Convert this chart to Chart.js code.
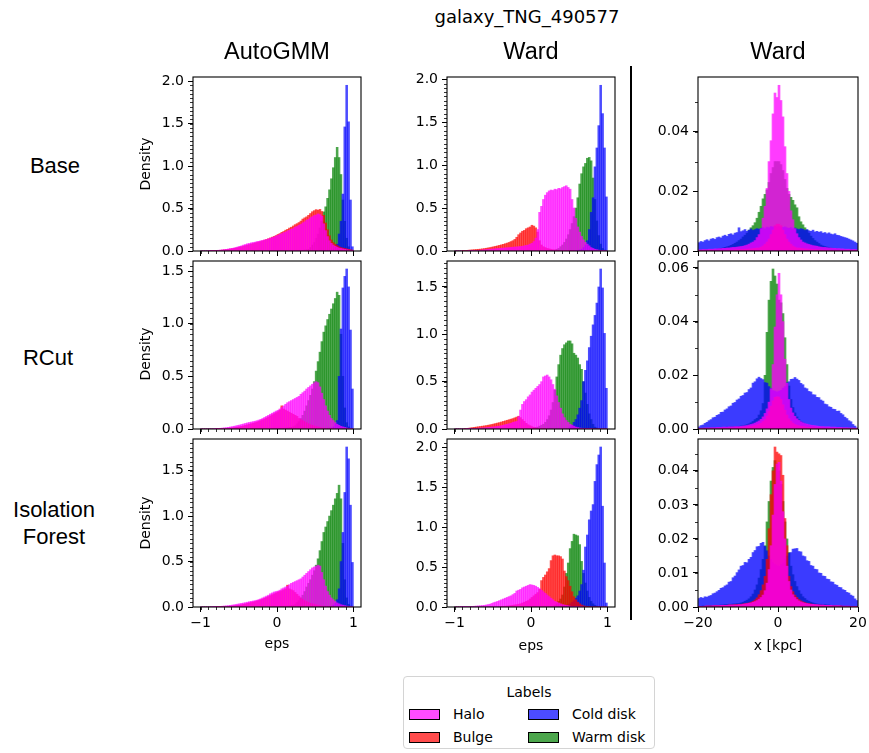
<!DOCTYPE html>
<html>
<head>
<meta charset="utf-8">
<title>galaxy_TNG_490577</title>
<script src="https://cdn.jsdelivr.net/npm/chart.js@4.4.1/dist/chart.umd.min.js"></script>
<style>
  body { margin: 0; background: #fff; }
  #fig { position: relative; width: 869px; height: 753px; overflow: hidden;
         font-family: "DejaVu Sans", sans-serif; color: #000; }
  #fig canvas { position: absolute; }
  .txt { position: absolute; white-space: nowrap; line-height: 1; transform: translate(-50%, -50%); }
  .head { font-family: "Liberation Sans", Arial, sans-serif; font-size: 22px; }
  .colhead { font-family: "Liberation Sans", Arial, sans-serif; font-size: 23.5px; }
  .lab { font-size: 14px; }
  .ylab { font-size: 14px; transform: translate(-50%, -50%) rotate(-90deg); }
  #sep { position: absolute; left: 630px; top: 66px; width: 2px; height: 554px; background: #000; }
  #legend { position: absolute; left: 403px; top: 676px; width: 252px; height: 73px;
            border: 1px solid #d4d4d4; border-radius: 4px; box-sizing: border-box; background: #fff; }
  .sw { position: absolute; width: 31px; height: 11px; border: 1px solid #000; box-sizing: border-box; }
  .lt { position: absolute; font-size: 14px; line-height: 1; transform: translateY(-50%); white-space: nowrap; }
</style>
</head>
<body>
<div id="fig"></div>
<script>
// component names and fills (alpha 0.7 like the hist calls)
const labelNames = ['Halo', 'Bulge', 'Cold disk', 'Warm disk'];
const fills = ['rgba(255,0,255,0.7)', 'rgba(255,0,0,0.7)', 'rgba(0,0,255,0.7)', 'rgba(0,128,0,0.7)'];

// bin centres: eps has 80 bins on [-1, 1], x has 80 bins on [-20, 20] kpc
const epsBins = Array.from({length: 80}, (_, i) => -1 + 0.025 * (i + 0.5));
const kpcBins = Array.from({length: 80}, (_, i) => -20 + 0.5 * (i + 0.5));

// tick values
const epsXTicks = [-1, 0, 1];
const kpcXTicks = [-20, 0, 20];
const densTicksTo2 = [0, 0.5, 1.0, 1.5, 2.0];
const densTicksTo15 = [0, 0.5, 1.0, 1.5];
const kpcTicksBase = [0, 0.02, 0.04];
const kpcTicksRCut = [0, 0.02, 0.04, 0.06];
const kpcTicksIso = [0, 0.01, 0.02, 0.03, 0.04];

// ---- Base / AutoGMM (eps) ----
const baseAutoHalo = [
  0, 0, 0, 0, 0.002, 0.003, 0.004, 0.005,
  0.007, 0.009, 0.011, 0.014, 0.017, 0.02, 0.024, 0.028,
  0.031, 0.036, 0.041, 0.048, 0.055, 0.061, 0.07, 0.077,
  0.085, 0.089, 0.096, 0.1, 0.104, 0.111, 0.114, 0.121,
  0.124, 0.131, 0.134, 0.142, 0.149, 0.159, 0.164, 0.176,
  0.184, 0.196, 0.204, 0.216, 0.223, 0.236, 0.244, 0.256,
  0.263, 0.281, 0.288, 0.302, 0.313, 0.331, 0.343, 0.362,
  0.373, 0.392, 0.403, 0.417, 0.424, 0.437, 0.428, 0.41,
  0.32, 0.24, 0.17, 0.12, 0.09, 0.07, 0.055, 0.045,
  0.035, 0.03, 0.025, 0.02, 0.015, 0.012, 0.008, 0.004
];
const baseAutoBulge = [
  0, 0, 0, 0, 0, 0.002, 0.003, 0.004,
  0.005, 0.007, 0.009, 0.011, 0.014, 0.017, 0.02, 0.023,
  0.027, 0.031, 0.035, 0.04, 0.046, 0.052, 0.058, 0.064,
  0.07, 0.076, 0.082, 0.088, 0.094, 0.1, 0.106, 0.112,
  0.12, 0.128, 0.136, 0.145, 0.154, 0.163, 0.172, 0.182,
  0.195, 0.205, 0.22, 0.23, 0.245, 0.255, 0.27, 0.28,
  0.295, 0.31, 0.322, 0.335, 0.352, 0.376, 0.39, 0.402,
  0.42, 0.441, 0.462, 0.475, 0.487, 0.48, 0.49, 0.465,
  0.42, 0.33, 0.25, 0.18, 0.13, 0.1, 0.08, 0.065,
  0.05, 0.04, 0.035, 0.03, 0.025, 0.02, 0.015, 0.01
];
const baseAutoCold = [
  0, 0, 0, 0, 0, 0, 0, 0,
  0, 0, 0, 0, 0, 0, 0, 0,
  0, 0, 0, 0, 0, 0, 0, 0,
  0, 0, 0, 0, 0, 0, 0, 0,
  0, 0, 0, 0, 0, 0, 0, 0,
  0, 0, 0, 0, 0, 0, 0, 0,
  0, 0, 0, 0, 0, 0, 0, 0,
  0, 0, 0, 0, 0, 0, 0, 0,
  0.002, 0.004, 0.006, 0.008, 0.01, 0.02, 0.04, 0.08,
  0.2, 0.35, 0.67, 1.46, 1.95, 1.52, 0.6, 0.05
];
const baseAutoWarm = [
  0, 0, 0, 0, 0, 0, 0, 0,
  0, 0, 0, 0, 0, 0, 0, 0,
  0, 0, 0, 0, 0, 0, 0, 0,
  0, 0, 0, 0, 0, 0, 0, 0,
  0, 0, 0, 0, 0, 0, 0, 0,
  0, 0, 0, 0, 0, 0, 0, 0,
  0, 0, 0.002, 0.004, 0.006, 0.008, 0.011, 0.015,
  0.02, 0.04, 0.07, 0.1, 0.15, 0.2, 0.27, 0.35,
  0.46, 0.52, 0.62, 0.72, 0.85, 0.98, 1.1, 1.22,
  1.1, 0.9, 0.6, 0.35, 0.15, 0.05, 0.01, 0
];

// ---- Base / Ward (eps) ----
const baseWardHalo = [
  0, 0, 0, 0, 0, 0, 0, 0.002,
  0.003, 0.004, 0.005, 0.006, 0.008, 0.01, 0.012, 0.014,
  0.016, 0.018, 0.02, 0.022, 0.024, 0.026, 0.028, 0.03,
  0.032, 0.034, 0.036, 0.038, 0.04, 0.042, 0.044, 0.046,
  0.048, 0.05, 0.052, 0.055, 0.06, 0.065, 0.07, 0.08,
  0.09, 0.11, 0.15, 0.25, 0.45, 0.52, 0.6, 0.65,
  0.68, 0.7, 0.71, 0.705, 0.72, 0.715, 0.73, 0.725,
  0.74, 0.75, 0.76, 0.74, 0.72, 0.6, 0.5, 0.38,
  0.28, 0.22, 0.17, 0.13, 0.1, 0.08, 0.06, 0.04,
  0.03, 0.02, 0.015, 0.01, 0.006, 0.004, 0.002, 0
];
const baseWardBulge = [
  0, 0, 0, 0, 0.004, 0.006, 0.008, 0.01,
  0.012, 0.014, 0.016, 0.018, 0.02, 0.022, 0.025, 0.028,
  0.032, 0.036, 0.04, 0.045, 0.05, 0.055, 0.06, 0.066,
  0.072, 0.078, 0.085, 0.092, 0.1, 0.11, 0.12, 0.135,
  0.16, 0.19, 0.21, 0.23, 0.24, 0.26, 0.27, 0.28,
  0.3, 0.29, 0.27, 0.22, 0.12, 0.07, 0.05, 0.04,
  0.03, 0.025, 0.02, 0.015, 0.012, 0.01, 0.008, 0.006,
  0.005, 0.004, 0.003, 0.002, 0.002, 0.001, 0.001, 0,
  0, 0, 0, 0, 0, 0, 0, 0,
  0, 0, 0, 0, 0, 0, 0, 0
];
const baseWardCold = [
  0, 0, 0, 0, 0, 0, 0, 0,
  0, 0, 0, 0, 0, 0, 0, 0,
  0, 0, 0, 0, 0, 0, 0, 0,
  0, 0, 0, 0, 0, 0, 0, 0,
  0, 0, 0, 0, 0, 0, 0, 0,
  0, 0, 0, 0, 0, 0, 0, 0,
  0, 0, 0, 0, 0, 0, 0, 0,
  0, 0, 0, 0, 0.002, 0.003, 0.004, 0.005,
  0.008, 0.012, 0.02, 0.04, 0.07, 0.12, 0.25, 0.45,
  0.62, 0.98, 1.2, 1.46, 1.93, 1.6, 1.2, 0.63
];
const baseWardWarm = [
  0, 0, 0, 0, 0, 0, 0, 0,
  0, 0, 0, 0, 0, 0, 0, 0,
  0, 0, 0, 0, 0, 0, 0, 0,
  0, 0, 0, 0, 0, 0, 0, 0,
  0, 0, 0, 0, 0, 0, 0, 0,
  0, 0, 0, 0, 0, 0, 0, 0,
  0.002, 0.004, 0.006, 0.008, 0.01, 0.02, 0.03, 0.05,
  0.07, 0.1, 0.14, 0.19, 0.25, 0.32, 0.4, 0.5,
  0.62, 0.78, 0.9, 0.98, 1.02, 1.08, 1.09, 1.05,
  0.85, 0.6, 0.35, 0.18, 0.08, 0.03, 0.01, 0
];

// ---- RCut / AutoGMM (eps) ----
const rcutAutoHalo = [
  0, 0, 0, 0, 0, 0, 0, 0.002,
  0.003, 0.005, 0.007, 0.009, 0.011, 0.013, 0.016, 0.019,
  0.022, 0.026, 0.03, 0.034, 0.038, 0.043, 0.048, 0.053,
  0.058, 0.062, 0.066, 0.07, 0.074, 0.079, 0.085, 0.092,
  0.1, 0.11, 0.12, 0.13, 0.14, 0.15, 0.16, 0.17,
  0.178, 0.19, 0.205, 0.22, 0.235, 0.25, 0.26, 0.27,
  0.28, 0.29, 0.3, 0.31, 0.33, 0.345, 0.36, 0.38,
  0.395, 0.41, 0.425, 0.44, 0.45, 0.44, 0.4, 0.34,
  0.28, 0.22, 0.17, 0.13, 0.1, 0.08, 0.06, 0.045,
  0.035, 0.025, 0.02, 0.015, 0.01, 0.006, 0.003, 0
];
const rcutAutoBulge = [
  0, 0, 0, 0, 0, 0, 0, 0,
  0.001, 0.002, 0.003, 0.004, 0.005, 0.006, 0.007, 0.008,
  0.01, 0.012, 0.015, 0.018, 0.021, 0.025, 0.03, 0.035,
  0.04, 0.045, 0.05, 0.055, 0.06, 0.066, 0.072, 0.08,
  0.088, 0.096, 0.105, 0.115, 0.125, 0.135, 0.145, 0.155,
  0.165, 0.18, 0.22, 0.19, 0.18, 0.17, 0.16, 0.15,
  0.14, 0.13, 0.12, 0.1, 0.09, 0.08, 0.07, 0.06,
  0.05, 0.04, 0.035, 0.03, 0.025, 0.02, 0.015, 0.01,
  0.008, 0.006, 0.004, 0.003, 0.002, 0.001, 0, 0,
  0, 0, 0, 0, 0, 0, 0, 0
];
const rcutAutoCold = [
  0, 0, 0, 0, 0, 0, 0, 0,
  0, 0, 0, 0, 0, 0, 0, 0,
  0, 0, 0, 0, 0, 0, 0, 0,
  0, 0, 0, 0, 0, 0, 0, 0,
  0, 0, 0, 0, 0, 0, 0, 0,
  0, 0, 0, 0, 0, 0, 0, 0,
  0, 0, 0, 0, 0, 0, 0, 0,
  0, 0, 0, 0, 0, 0, 0, 0,
  0.002, 0.004, 0.006, 0.008, 0.01, 0.02, 0.05, 0.08,
  0.5, 0.95, 1.34, 1.45, 1.52, 1.35, 0.94, 0.38
];
const rcutAutoWarm = [
  0, 0, 0, 0, 0, 0, 0, 0,
  0, 0, 0, 0, 0, 0, 0, 0,
  0, 0, 0, 0, 0, 0, 0, 0,
  0, 0, 0, 0, 0, 0, 0, 0,
  0, 0, 0, 0, 0, 0, 0, 0,
  0.002, 0.003, 0.004, 0.006, 0.008, 0.01, 0.013, 0.016,
  0.02, 0.03, 0.05, 0.07, 0.1, 0.13, 0.17, 0.22,
  0.27, 0.32, 0.38, 0.45, 0.55, 0.64, 0.73, 0.83,
  0.92, 0.98, 1.04, 1.09, 1.14, 1.19, 1.24, 1.3,
  1.27, 0.9, 0.5, 0.2, 0.06, 0.02, 0, 0
];

// ---- RCut / Ward (eps) ----
const rcutWardHalo = [
  0, 0, 0, 0, 0, 0, 0.002, 0.003,
  0.004, 0.005, 0.006, 0.007, 0.008, 0.01, 0.011, 0.012,
  0.014, 0.016, 0.018, 0.02, 0.022, 0.025, 0.028, 0.031,
  0.035, 0.04, 0.045, 0.05, 0.055, 0.06, 0.07, 0.075,
  0.08, 0.13, 0.2, 0.26, 0.29, 0.31, 0.34, 0.36,
  0.39, 0.41, 0.43, 0.45, 0.47, 0.5, 0.55, 0.56,
  0.57, 0.55, 0.52, 0.47, 0.42, 0.35, 0.28, 0.22,
  0.16, 0.12, 0.09, 0.07, 0.05, 0.04, 0.03, 0.02,
  0.015, 0.01, 0.008, 0.006, 0.004, 0.003, 0.002, 0.001,
  0, 0, 0, 0, 0, 0, 0, 0
];
const rcutWardBulge = [
  0, 0, 0, 0, 0, 0.003, 0.006, 0.009,
  0.012, 0.015, 0.018, 0.021, 0.024, 0.027, 0.03, 0.033,
  0.036, 0.04, 0.044, 0.048, 0.053, 0.058, 0.063, 0.068,
  0.074, 0.08, 0.086, 0.092, 0.098, 0.104, 0.11, 0.118,
  0.126, 0.135, 0.12, 0.1, 0.08, 0.06, 0.045, 0.035,
  0.025, 0.018, 0.012, 0.008, 0.005, 0.003, 0.002, 0.001,
  0, 0, 0, 0, 0, 0, 0, 0,
  0, 0, 0, 0, 0, 0, 0, 0,
  0, 0, 0, 0, 0, 0, 0, 0,
  0, 0, 0, 0, 0, 0, 0, 0
];
const rcutWardCold = [
  0, 0, 0, 0, 0, 0, 0, 0,
  0, 0, 0, 0, 0, 0, 0, 0,
  0, 0, 0, 0, 0, 0, 0, 0,
  0, 0, 0, 0, 0, 0, 0, 0,
  0, 0, 0, 0, 0, 0, 0, 0,
  0, 0, 0, 0, 0, 0, 0, 0,
  0, 0, 0, 0, 0, 0, 0, 0,
  0, 0, 0, 0, 0.02, 0.04, 0.07, 0.1,
  0.15, 0.22, 0.3, 0.5, 0.62, 0.72, 0.86, 0.98,
  1.1, 1.2, 1.33, 1.5, 1.69, 1.49, 1.01, 0.43
];
const rcutWardWarm = [
  0, 0, 0, 0, 0, 0, 0, 0,
  0, 0, 0, 0, 0, 0, 0, 0,
  0, 0, 0, 0, 0, 0, 0, 0,
  0, 0, 0, 0, 0, 0, 0, 0,
  0, 0, 0, 0, 0, 0, 0, 0,
  0.005, 0.01, 0.015, 0.02, 0.03, 0.04, 0.05, 0.07,
  0.1, 0.14, 0.2, 0.28, 0.41, 0.55, 0.68, 0.78,
  0.85, 0.89, 0.91, 0.93, 0.93, 0.9, 0.8, 0.78,
  0.75, 0.68, 0.63, 0.5, 0.38, 0.26, 0.16, 0.1,
  0.05, 0.02, 0.01, 0, 0, 0, 0, 0
];

// ---- Isolation Forest / AutoGMM (eps) ----
const isoAutoHalo = [
  0, 0, 0, 0, 0, 0, 0.002, 0.003,
  0.004, 0.005, 0.007, 0.009, 0.011, 0.013, 0.015, 0.018,
  0.021, 0.024, 0.028, 0.032, 0.036, 0.04, 0.044, 0.048,
  0.053, 0.058, 0.062, 0.066, 0.07, 0.075, 0.082, 0.09,
  0.1, 0.11, 0.12, 0.13, 0.145, 0.155, 0.165, 0.17,
  0.175, 0.185, 0.2, 0.21, 0.22, 0.23, 0.245, 0.26,
  0.27, 0.28, 0.29, 0.3, 0.31, 0.33, 0.35, 0.37,
  0.39, 0.41, 0.43, 0.44, 0.45, 0.46, 0.45, 0.38,
  0.3, 0.23, 0.17, 0.13, 0.1, 0.08, 0.06, 0.045,
  0.035, 0.025, 0.02, 0.015, 0.01, 0.006, 0.003, 0
];
const isoAutoBulge = [
  0, 0, 0, 0, 0, 0, 0, 0,
  0.001, 0.002, 0.003, 0.004, 0.005, 0.006, 0.007, 0.008,
  0.01, 0.012, 0.015, 0.018, 0.021, 0.025, 0.03, 0.035,
  0.04, 0.045, 0.05, 0.055, 0.06, 0.066, 0.072, 0.08,
  0.088, 0.096, 0.105, 0.115, 0.125, 0.135, 0.145, 0.155,
  0.165, 0.17, 0.18, 0.19, 0.2, 0.24, 0.2, 0.19,
  0.18, 0.16, 0.14, 0.12, 0.1, 0.085, 0.07, 0.06,
  0.05, 0.04, 0.035, 0.03, 0.025, 0.02, 0.015, 0.01,
  0.008, 0.006, 0.004, 0.003, 0.002, 0.001, 0, 0,
  0, 0, 0, 0, 0, 0, 0, 0
];
const isoAutoCold = [
  0, 0, 0, 0, 0, 0, 0, 0,
  0, 0, 0, 0, 0, 0, 0, 0,
  0, 0, 0, 0, 0, 0, 0, 0,
  0, 0, 0, 0, 0, 0, 0, 0,
  0, 0, 0, 0, 0, 0, 0, 0,
  0, 0, 0, 0, 0, 0, 0, 0,
  0, 0, 0, 0, 0, 0, 0, 0,
  0, 0, 0, 0, 0, 0, 0, 0,
  0.002, 0.004, 0.006, 0.008, 0.01, 0.02, 0.04, 0.08,
  0.2, 0.5, 0.82, 1.26, 1.76, 1.63, 1.12, 0.49
];
const isoAutoWarm = [
  0, 0, 0, 0, 0, 0, 0, 0,
  0, 0, 0, 0, 0, 0, 0, 0,
  0, 0, 0, 0, 0, 0, 0, 0,
  0, 0, 0, 0, 0, 0, 0, 0,
  0, 0, 0, 0, 0, 0, 0, 0,
  0.002, 0.003, 0.004, 0.006, 0.008, 0.01, 0.013, 0.016,
  0.02, 0.03, 0.05, 0.07, 0.1, 0.13, 0.17, 0.22,
  0.26, 0.3, 0.35, 0.4, 0.46, 0.53, 0.62, 0.72,
  0.82, 0.88, 0.94, 1.0, 1.06, 1.12, 1.19, 1.25,
  1.34, 1.19, 0.7, 0.3, 0.1, 0.03, 0.01, 0
];

// ---- Isolation Forest / Ward (eps) ----
const isoWardHalo = [
  0, 0, 0, 0.002, 0.003, 0.004, 0.005, 0.006,
  0.007, 0.008, 0.01, 0.012, 0.014, 0.016, 0.018, 0.02,
  0.025, 0.03, 0.035, 0.045, 0.055, 0.062, 0.07, 0.08,
  0.09, 0.1, 0.11, 0.12, 0.13, 0.14, 0.155, 0.17,
  0.2, 0.21, 0.22, 0.24, 0.25, 0.26, 0.27, 0.28,
  0.275, 0.27, 0.26, 0.245, 0.23, 0.21, 0.19, 0.17,
  0.15, 0.13, 0.11, 0.09, 0.07, 0.06, 0.05, 0.04,
  0.03, 0.025, 0.02, 0.015, 0.01, 0.008, 0.006, 0.004,
  0.003, 0.002, 0.001, 0, 0, 0, 0, 0,
  0, 0, 0, 0, 0, 0, 0, 0
];
const isoWardBulge = [
  0, 0, 0, 0, 0, 0, 0, 0,
  0, 0, 0, 0, 0, 0, 0, 0,
  0, 0, 0, 0, 0, 0, 0, 0,
  0.005, 0.007, 0.01, 0.012, 0.015, 0.018, 0.022, 0.026,
  0.03, 0.035, 0.04, 0.05, 0.06, 0.07, 0.08, 0.1,
  0.12, 0.14, 0.16, 0.18, 0.22, 0.33, 0.37, 0.4,
  0.44, 0.48, 0.58, 0.64, 0.65, 0.64, 0.64, 0.63,
  0.6, 0.45, 0.38, 0.33, 0.26, 0.19, 0.13, 0.09,
  0.06, 0.04, 0.025, 0.015, 0.01, 0.005, 0.002, 0,
  0, 0, 0, 0, 0, 0, 0, 0
];
const isoWardCold = [
  0, 0, 0, 0, 0, 0, 0, 0,
  0, 0, 0, 0, 0, 0, 0, 0,
  0, 0, 0, 0, 0, 0, 0, 0,
  0, 0, 0, 0, 0, 0, 0, 0,
  0, 0, 0, 0, 0, 0, 0, 0,
  0, 0, 0, 0, 0, 0, 0, 0,
  0, 0, 0, 0, 0, 0, 0, 0,
  0.01, 0.015, 0.02, 0.03, 0.04, 0.06, 0.08, 0.11,
  0.14, 0.2, 0.28, 0.46, 0.75, 0.9, 1.09, 1.2,
  1.28, 1.57, 1.78, 1.9, 2.0, 1.26, 0.55, 0.05
];
const isoWardWarm = [
  0, 0, 0, 0, 0, 0, 0, 0,
  0, 0, 0, 0, 0, 0, 0, 0,
  0, 0, 0, 0, 0, 0, 0, 0,
  0, 0, 0, 0, 0, 0, 0, 0,
  0, 0, 0, 0, 0, 0, 0, 0,
  0, 0, 0, 0, 0, 0, 0, 0,
  0, 0, 0, 0, 0.02, 0.04, 0.07, 0.1,
  0.15, 0.25, 0.42, 0.55, 0.73, 0.82, 0.91, 0.9,
  0.89, 0.78, 0.57, 0.42, 0.3, 0.2, 0.12, 0.07,
  0.04, 0.02, 0.01, 0, 0, 0, 0, 0
];

// ---- Base / Ward (x, kpc) ----
const baseXHalo = [
  0.0004, 0.0004, 0.0005, 0.0005, 0.0005, 0.0006, 0.0006, 0.0006, 0.0007, 0.0007,
  0.0008, 0.0008, 0.0009, 0.0009, 0.001, 0.001, 0.0011, 0.0012, 0.0012, 0.0013,
  0.0014, 0.0015, 0.0016, 0.0018, 0.002, 0.0023, 0.0027, 0.003, 0.0035, 0.0045,
  0.0055, 0.0075, 0.011, 0.015, 0.021, 0.03, 0.037, 0.046, 0.053, 0.0515,
  0.0556, 0.0505, 0.045, 0.035, 0.026, 0.02, 0.0135, 0.0105, 0.0075, 0.0058,
  0.0045, 0.0037, 0.003, 0.0027, 0.0024, 0.0022, 0.002, 0.0018, 0.0017, 0.0016,
  0.0014, 0.0013, 0.0012, 0.0012, 0.0011, 0.001, 0.001, 0.0009, 0.0009, 0.0008,
  0.0008, 0.0007, 0.0007, 0.0006, 0.0006, 0.0006, 0.0005, 0.0005, 0.0005, 0.0004
];
const baseXBulge = [
  0.0001, 0.0001, 0.0001, 0.0001, 0.0001, 0.0001, 0.0001, 0.0001, 0.0002, 0.0002,
  0.0002, 0.0002, 0.0002, 0.0002, 0.0003, 0.0003, 0.0003, 0.0003, 0.0004, 0.0004,
  0.0004, 0.0005, 0.0005, 0.0006, 0.0006, 0.0007, 0.0007, 0.0008, 0.0009, 0.001,
  0.001, 0.0013, 0.0017, 0.0023, 0.003, 0.004, 0.0055, 0.007, 0.0085, 0.009,
  0.009, 0.0085, 0.007, 0.0055, 0.004, 0.003, 0.0023, 0.0017, 0.0013, 0.001,
  0.001, 0.0009, 0.0008, 0.0007, 0.0007, 0.0006, 0.0006, 0.0005, 0.0005, 0.0004,
  0.0004, 0.0004, 0.0003, 0.0003, 0.0003, 0.0003, 0.0002, 0.0002, 0.0002, 0.0002,
  0.0002, 0.0002, 0.0001, 0.0001, 0.0001, 0.0001, 0.0001, 0.0001, 0.0001, 0.0001
];
const baseXCold = [
  0.0028, 0.0032, 0.003, 0.0035, 0.0038, 0.0034, 0.004, 0.0042, 0.0039, 0.0045,
  0.0047, 0.0044, 0.005, 0.0053, 0.0049, 0.0056, 0.0058, 0.0054, 0.006, 0.0062,
  0.0078, 0.0065, 0.0068, 0.0072, 0.0066, 0.007, 0.0074, 0.0069, 0.0072, 0.0075,
  0.0073, 0.0076, 0.0078, 0.0075, 0.008, 0.0078, 0.0082, 0.008, 0.0083, 0.0081,
  0.0082, 0.008, 0.0079, 0.0081, 0.0078, 0.0076, 0.0079, 0.0075, 0.0077, 0.0074,
  0.0072, 0.0075, 0.0073, 0.0069, 0.0072, 0.0068, 0.0066, 0.007, 0.0064, 0.0066,
  0.0063, 0.0065, 0.006, 0.0062, 0.0058, 0.0061, 0.0057, 0.0055, 0.0058, 0.0053,
  0.0052, 0.0049, 0.0047, 0.0045, 0.0043, 0.004, 0.0037, 0.0034, 0.003, 0.0026
];
const baseXWarm = [
  0.0003, 0.0003, 0.0003, 0.0004, 0.0004, 0.0004, 0.0005, 0.0005, 0.0005, 0.0006,
  0.0008, 0.0009, 0.001, 0.0012, 0.0014, 0.0016, 0.0019, 0.0022, 0.0026, 0.003,
  0.0035, 0.004, 0.0047, 0.0053, 0.006, 0.007, 0.0078, 0.0085, 0.0095, 0.011,
  0.013, 0.015, 0.0175, 0.019, 0.0205, 0.023, 0.026, 0.028, 0.03, 0.03,
  0.03, 0.029, 0.027, 0.024, 0.021, 0.019, 0.018, 0.017, 0.0155, 0.0145,
  0.0115, 0.0098, 0.0088, 0.0078, 0.007, 0.006, 0.005, 0.0042, 0.0035, 0.003,
  0.0025, 0.002, 0.0017, 0.0015, 0.0013, 0.0011, 0.001, 0.0009, 0.0008, 0.0007,
  0.0006, 0.0005, 0.0005, 0.0005, 0.0004, 0.0004, 0.0004, 0.0003, 0.0003, 0.0003
];

// ---- RCut / Ward (x, kpc) ----
const rcutXHalo = [
  0.0003, 0.0003, 0.0003, 0.0004, 0.0004, 0.0004, 0.0005, 0.0005, 0.0005, 0.0006,
  0.0006, 0.0006, 0.0007, 0.0007, 0.0007, 0.0008, 0.0008, 0.0008, 0.0009, 0.0009,
  0.0009, 0.001, 0.0011, 0.0012, 0.0013, 0.0015, 0.0017, 0.0019, 0.0022, 0.0026,
  0.003, 0.0036, 0.0045, 0.0058, 0.0075, 0.01, 0.015, 0.024, 0.038, 0.05,
  0.058, 0.05, 0.04, 0.026, 0.017, 0.011, 0.0078, 0.006, 0.0047, 0.0038,
  0.0032, 0.0027, 0.0023, 0.002, 0.0018, 0.0016, 0.0014, 0.0013, 0.0012, 0.0011,
  0.001, 0.0009, 0.0009, 0.0008, 0.0008, 0.0008, 0.0007, 0.0007, 0.0007, 0.0006,
  0.0006, 0.0006, 0.0005, 0.0005, 0.0005, 0.0004, 0.0004, 0.0004, 0.0003, 0.0003
];
const rcutXBulge = [
  0.0001, 0.0001, 0.0001, 0.0001, 0.0001, 0.0001, 0.0001, 0.0002, 0.0002, 0.0002,
  0.0002, 0.0002, 0.0003, 0.0003, 0.0003, 0.0003, 0.0004, 0.0004, 0.0004, 0.0005,
  0.0005, 0.0006, 0.0006, 0.0007, 0.0008, 0.0009, 0.001, 0.0011, 0.0013, 0.0015,
  0.0018, 0.0022, 0.0028, 0.0036, 0.0048, 0.0065, 0.0085, 0.0105, 0.0118, 0.012,
  0.0119, 0.011, 0.009, 0.007, 0.0052, 0.0038, 0.0029, 0.0022, 0.0017, 0.0014,
  0.0012, 0.001, 0.0009, 0.0008, 0.0007, 0.0006, 0.0006, 0.0005, 0.0005, 0.0004,
  0.0004, 0.0004, 0.0003, 0.0003, 0.0003, 0.0003, 0.0002, 0.0002, 0.0002, 0.0002,
  0.0002, 0.0001, 0.0001, 0.0001, 0.0001, 0.0001, 0.0001, 0.0001, 0.0001, 0.0001
];
const rcutXCold = [
  0.0008, 0.0013, 0.0015, 0.0021, 0.0025, 0.0031, 0.0035, 0.0042, 0.0044, 0.0051,
  0.0054, 0.0062, 0.0063, 0.0071, 0.0075, 0.0083, 0.0086, 0.0096, 0.0099, 0.0108,
  0.0112, 0.0122, 0.0125, 0.0134, 0.0136, 0.0147, 0.0153, 0.0171, 0.0176, 0.0187,
  0.0193, 0.0188, 0.0184, 0.0173, 0.0171, 0.0158, 0.0151, 0.0143, 0.0141, 0.0138,
  0.0141, 0.0144, 0.0152, 0.0158, 0.0172, 0.0176, 0.0185, 0.0186, 0.0192, 0.0186,
  0.0181, 0.017, 0.0165, 0.0153, 0.015, 0.014, 0.0138, 0.0128, 0.0127, 0.0118,
  0.0117, 0.0108, 0.0104, 0.0093, 0.0091, 0.0083, 0.0081, 0.0074, 0.0073, 0.0066,
  0.0067, 0.0058, 0.0053, 0.0044, 0.0039, 0.0031, 0.0027, 0.0017, 0.0011, 0.0004
];
const rcutXWarm = [
  0.0002, 0.0002, 0.0002, 0.0003, 0.0003, 0.0003, 0.0004, 0.0004, 0.0004, 0.0005,
  0.0005, 0.0005, 0.0006, 0.0006, 0.0007, 0.0007, 0.0008, 0.0008, 0.0009, 0.0009,
  0.001, 0.0011, 0.0012, 0.0014, 0.0016, 0.0019, 0.0023, 0.0028, 0.0035, 0.004,
  0.0052, 0.0068, 0.0095, 0.02, 0.036, 0.048, 0.055, 0.0596, 0.057, 0.054,
  0.048, 0.047, 0.043, 0.034, 0.024, 0.016, 0.011, 0.008, 0.006, 0.0045,
  0.0035, 0.0028, 0.0023, 0.0019, 0.0016, 0.0014, 0.0012, 0.001, 0.0009, 0.0008,
  0.0008, 0.0007, 0.0007, 0.0006, 0.0006, 0.0005, 0.0005, 0.0005, 0.0004, 0.0004,
  0.0004, 0.0003, 0.0003, 0.0003, 0.0003, 0.0002, 0.0002, 0.0002, 0.0002, 0.0002
];

// ---- Isolation Forest / Ward (x, kpc) ----
const isoXHalo = [
  0.0002, 0.0002, 0.0002, 0.0003, 0.0003, 0.0003, 0.0003, 0.0004, 0.0004, 0.0004,
  0.0004, 0.0005, 0.0005, 0.0005, 0.0005, 0.0006, 0.0006, 0.0006, 0.0006, 0.0006,
  0.0007, 0.0007, 0.0008, 0.0009, 0.001, 0.0011, 0.0012, 0.0014, 0.0016, 0.0019,
  0.0023, 0.0028, 0.0035, 0.0048, 0.007, 0.011, 0.018, 0.027, 0.036, 0.042,
  0.0425, 0.037, 0.028, 0.02, 0.012, 0.0075, 0.005, 0.0036, 0.0028, 0.0022,
  0.0018, 0.0015, 0.0013, 0.0011, 0.001, 0.0009, 0.0008, 0.0008, 0.0007, 0.0007,
  0.0006, 0.0006, 0.0006, 0.0005, 0.0005, 0.0005, 0.0005, 0.0004, 0.0004, 0.0004,
  0.0004, 0.0003, 0.0003, 0.0003, 0.0003, 0.0003, 0.0002, 0.0002, 0.0002, 0.0002
];
const isoXBulge = [
  0.0002, 0.0002, 0.0002, 0.0002, 0.0003, 0.0003, 0.0003, 0.0003, 0.0004, 0.0004,
  0.0004, 0.0004, 0.0005, 0.0005, 0.0005, 0.0006, 0.0006, 0.0006, 0.0007, 0.0007,
  0.0008, 0.0008, 0.0009, 0.001, 0.0011, 0.0012, 0.0014, 0.0017, 0.0021, 0.0027,
  0.0036, 0.0048, 0.0065, 0.009, 0.014, 0.023, 0.033, 0.04, 0.047, 0.0455,
  0.045, 0.0445, 0.0387, 0.026, 0.018, 0.009, 0.006, 0.0045, 0.0035, 0.0028,
  0.0022, 0.0018, 0.0015, 0.0013, 0.0011, 0.001, 0.0009, 0.0008, 0.0007, 0.0006,
  0.0006, 0.0005, 0.0005, 0.0005, 0.0004, 0.0004, 0.0004, 0.0003, 0.0003, 0.0003,
  0.0003, 0.0003, 0.0002, 0.0002, 0.0002, 0.0002, 0.0002, 0.0002, 0.0002, 0.0002
];
const isoXCold = [
  0.0025, 0.0028, 0.0026, 0.003, 0.0029, 0.0032, 0.0034, 0.0039, 0.0041, 0.0045,
  0.0049, 0.0055, 0.0057, 0.0062, 0.0065, 0.0073, 0.0075, 0.0086, 0.0091, 0.0101,
  0.0109, 0.012, 0.0122, 0.0131, 0.013, 0.014, 0.0146, 0.016, 0.0166, 0.0177,
  0.0178, 0.0187, 0.019, 0.0178, 0.0165, 0.015, 0.014, 0.013, 0.0125, 0.0122,
  0.012, 0.0125, 0.013, 0.014, 0.015, 0.0158, 0.016, 0.017, 0.0171, 0.0172,
  0.0163, 0.0162, 0.015, 0.0148, 0.0136, 0.0134, 0.0122, 0.012, 0.0111, 0.011,
  0.01, 0.0099, 0.0091, 0.009, 0.0082, 0.0081, 0.0074, 0.0073, 0.0066, 0.0064,
  0.0058, 0.0057, 0.0051, 0.0049, 0.0043, 0.0041, 0.0035, 0.0032, 0.0024, 0.0019
];
const isoXWarm = [
  0.0002, 0.0002, 0.0003, 0.0003, 0.0003, 0.0004, 0.0004, 0.0004, 0.0005, 0.0005,
  0.0005, 0.0006, 0.0006, 0.0007, 0.0007, 0.0008, 0.0008, 0.0009, 0.0009, 0.001,
  0.001, 0.0012, 0.0014, 0.0017, 0.002, 0.0024, 0.003, 0.0038, 0.005, 0.0065,
  0.0085, 0.011, 0.014, 0.018, 0.025, 0.031, 0.037, 0.041, 0.043, 0.042,
  0.04, 0.036, 0.031, 0.025, 0.02, 0.016, 0.012, 0.0095, 0.0075, 0.006,
  0.0048, 0.0038, 0.003, 0.0025, 0.002, 0.0017, 0.0014, 0.0012, 0.001, 0.0009,
  0.0008, 0.0008, 0.0007, 0.0007, 0.0006, 0.0006, 0.0005, 0.0005, 0.0005, 0.0004,
  0.0004, 0.0004, 0.0003, 0.0003, 0.0003, 0.0003, 0.0002, 0.0002, 0.0002, 0.0002
];

// grid geometry (axes boxes in page pixels)
const cols = [{left: 193, w: 168}, {left: 447, w: 168}, {left: 698, w: 160}];
const rows = [{top: 77, h: 174}, {top: 261, h: 168}, {top: 439, h: 168}];
const PAD_L = 52, PAD_R = 20, PAD_T = 20, PAD_B = 32;

const panels = [
  {r: 0, c: 0, kind: 'eps', series: [baseAutoHalo, baseAutoBulge, baseAutoCold, baseAutoWarm], yTicks: densTicksTo2},
  {r: 0, c: 1, kind: 'eps', series: [baseWardHalo, baseWardBulge, baseWardCold, baseWardWarm], yTicks: densTicksTo2},
  {r: 0, c: 2, kind: 'kpc', series: [baseXHalo, baseXBulge, baseXCold, baseXWarm], yTicks: kpcTicksBase},
  {r: 1, c: 0, kind: 'eps', series: [rcutAutoHalo, rcutAutoBulge, rcutAutoCold, rcutAutoWarm], yTicks: densTicksTo15},
  {r: 1, c: 1, kind: 'eps', series: [rcutWardHalo, rcutWardBulge, rcutWardCold, rcutWardWarm], yTicks: densTicksTo15},
  {r: 1, c: 2, kind: 'kpc', series: [rcutXHalo, rcutXBulge, rcutXCold, rcutXWarm], yTicks: kpcTicksRCut},
  {r: 2, c: 0, kind: 'eps', series: [isoAutoHalo, isoAutoBulge, isoAutoCold, isoAutoWarm], yTicks: densTicksTo15},
  {r: 2, c: 1, kind: 'eps', series: [isoWardHalo, isoWardBulge, isoWardCold, isoWardWarm], yTicks: densTicksTo2},
  {r: 2, c: 2, kind: 'kpc', series: [isoXHalo, isoXBulge, isoXCold, isoXWarm], yTicks: kpcTicksIso}
];

const fig = document.getElementById('fig');
const minus = v => (v < 0 ? '\u2212' + Math.abs(v) : String(v));

function steps(lo, hi, step) {
  const out = [];
  for (let k = Math.ceil(lo / step - 1e-9); k * step < hi - 1e-9; k++) {
    if (k * step > lo + 1e-9) out.push(k * step);
  }
  return out;
}

// spines on all four sides plus the short minor ticks
const axesDecor = {
  id: 'axesDecor',
  afterDatasetsDraw(chart, args, opts) {
    const {ctx, chartArea: a, scales: {x, y}} = chart;
    ctx.save();
    ctx.strokeStyle = '#000';
    ctx.lineWidth = 0.8;
    ctx.beginPath();
    for (const v of opts.xMinor) {
      const px = Math.round(x.getPixelForValue(v)) + 0.5;
      ctx.moveTo(px, a.bottom);
      ctx.lineTo(px, a.bottom + 3);
    }
    for (const v of opts.yMinor) {
      const py = Math.round(y.getPixelForValue(v)) + 0.5;
      ctx.moveTo(a.left, py);
      ctx.lineTo(a.left - 3, py);
    }
    ctx.stroke();
    ctx.lineWidth = 1.1;
    ctx.strokeRect(a.left, a.top, a.right - a.left, a.bottom - a.top);
    ctx.restore();
  }
};

panels.forEach(p => {
  const col = cols[p.c], row = rows[p.r];
  const isEps = p.kind === 'eps';
  const W = col.w + PAD_L + PAD_R, H = row.h + PAD_T + PAD_B;
  const canvas = document.createElement('canvas');
  canvas.width = W; canvas.height = H;
  canvas.style.left = (col.left - PAD_L) + 'px';
  canvas.style.top = (row.top - PAD_T) + 'px';
  canvas.style.width = W + 'px';
  canvas.style.height = H + 'px';
  fig.appendChild(canvas);

  const bins = isEps ? epsBins : kpcBins;
  const xMin = isEps ? -1.1 : -20, xMax = isEps ? 1.1 : 20;
  const xTicks = isEps ? epsXTicks : kpcXTicks;
  const yMax = 1.05 * Math.max(...p.series.flat());
  const yStep = p.yTicks[1] - p.yTicks[0];
  const showX = p.r === 2;
  const tickGrid = {display: true, drawOnChartArea: false, drawTicks: true, tickLength: 5,
                    tickColor: '#000', tickWidth: 1, offset: false};
  const tickFont = {family: '"DejaVu Sans", sans-serif', size: 14};

  new Chart(canvas, {
    type: 'bar',
    data: {
      datasets: p.series.map((vals, k) => ({
        label: labelNames[k],
        data: vals.map((v, i) => ({x: bins[i], y: v})),
        backgroundColor: fills[k],
        borderWidth: 0,
        grouped: false,
        barPercentage: 1,
        categoryPercentage: 1
      }))
    },
    options: {
      responsive: false,
      animation: false,
      events: [],
      layout: {padding: {left: 0, top: PAD_T, right: PAD_R, bottom: 0}},
      plugins: {
        legend: {display: false},
        tooltip: {enabled: false},
        axesDecor: {
          xMinor: steps(xMin, xMax, isEps ? 0.1 : 2),
          yMinor: steps(0, yMax, isEps ? yStep / 10 : yStep / 2)
        }
      },
      scales: {
        x: {
          type: 'linear', min: xMin, max: xMax, offset: false,
          afterFit: s => { s.height = PAD_B; },
          afterBuildTicks: s => { s.ticks = xTicks.map(v => ({value: v})); },
          grid: tickGrid,
          border: {display: false},
          ticks: {color: '#000', font: tickFont, padding: 3, maxRotation: 0, autoSkip: false,
                  callback: v => (showX ? minus(v) : '')}
        },
        y: {
          type: 'linear', min: 0, max: yMax,
          afterFit: s => { s.width = PAD_L; },
          afterBuildTicks: s => { s.ticks = p.yTicks.map(v => ({value: v})); },
          grid: tickGrid,
          border: {display: false},
          ticks: {color: '#000', font: tickFont, padding: 4,
                  callback: v => v.toFixed(isEps ? 1 : 2)}
        }
      }
    },
    plugins: [axesDecor]
  });
});

// figure text
function addText(txt, x, y, cls) {
  const d = document.createElement('div');
  d.className = 'txt ' + cls;
  d.textContent = txt;
  d.style.left = x + 'px';
  d.style.top = y + 'px';
  fig.appendChild(d);
  return d;
}
addText('galaxy_TNG_490577', 527, 17, 'lab').style.fontSize = '18px';
addText('AutoGMM', 277, 52, 'colhead');
addText('Ward', 531, 52, 'colhead');
addText('Ward', 778, 52, 'colhead');
addText('Base', 55, 166, 'head');
addText('RCut', 48, 358, 'head');
addText('Isolation', 54, 510, 'head');
addText('Forest', 54, 537, 'head');
addText('Density', 145, 164, 'ylab');
addText('Density', 145, 354, 'ylab');
addText('Density', 145, 523, 'ylab');
addText('eps', 277, 643, 'lab');
addText('eps', 531, 645, 'lab');
addText('x [kpc]', 778, 645, 'lab');

const sep = document.createElement('div');
sep.id = 'sep';
fig.appendChild(sep);

// legend box
const legend = document.createElement('div');
legend.id = 'legend';
fig.appendChild(legend);
const lt = document.createElement('div');
lt.className = 'txt lab';
lt.textContent = 'Labels';
lt.style.left = '125px';
lt.style.top = '15px';
legend.appendChild(lt);
const legendSpots = [[5, 37], [5, 60], [124, 37], [124, 60]];
labelNames.forEach((name, k) => {
  const [lx, ly] = legendSpots[k];
  const sw = document.createElement('div');
  sw.className = 'sw';
  sw.style.left = lx + 'px';
  sw.style.top = (ly - 5) + 'px';
  sw.style.background = fills[k];
  legend.appendChild(sw);
  const t = document.createElement('div');
  t.className = 'lt';
  t.textContent = name;
  t.style.left = (lx + 44) + 'px';
  t.style.top = ly + 'px';
  legend.appendChild(t);
});
</script>
</body>
</html>
